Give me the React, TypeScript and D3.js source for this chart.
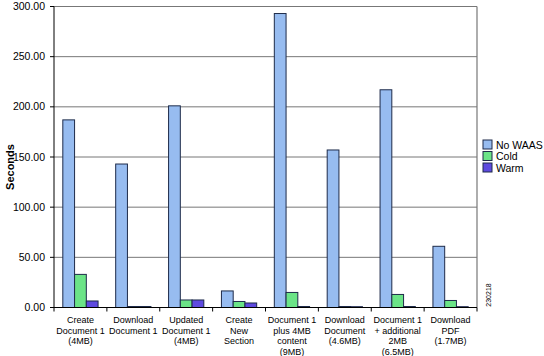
import React from "react";
import * as d3 from "d3";

const categories: string[][] = [
  ["Create", "Document 1", "(4MB)"],
  ["Download", "Document 1"],
  ["Updated", "Document 1", "(4MB)"],
  ["Create", "New", "Section"],
  ["Document 1", "plus 4MB", "content", "(9MB)"],
  ["Download", "Document", "(4.6MB)"],
  ["Document 1", "+ additional", "2MB", "(6.5MB)"],
  ["Download", "PDF", "(1.7MB)"],
];
const seriesNames = ["No WAAS", "Cold", "Warm"];
const noWaas = [187, 143, 201, 16.5, 293, 157, 217, 61];
const cold = [33, 1, 7.5, 6, 15, 1, 13, 7];
const warm = [6.5, 1, 7.5, 4.5, 1, 0.8, 1, 0.8];
const yTicks = [0, 50, 100, 150, 200, 250, 300];
const colors = ["#97BCF0", "#6BE487", "#5E4ADF"];

export default function App() {
  const W = 544, H = 356;
  const left = 54, right = 477, top = 6.5, bottom = 307.5;
  const x = d3.scaleBand<number>().domain(d3.range(categories.length)).range([left, right]);
  const y = d3.scaleLinear().domain([0, 300]).range([bottom, top]);
  const bw = x.bandwidth() / 4.5;
  const series = [noWaas, cold, warm];
  const font = "'Liberation Sans', Arial, sans-serif";
  return (
    <svg width={W} height={H} style={{ position: "absolute", left: 0, top: 0, background: "#fff" }} fontFamily={font}>
      {yTicks.map((t) => (
        <g key={t}>
          <line x1={left} x2={right} y1={y(t)} y2={y(t)} stroke="#777" strokeWidth={1} />
          <line x1={left - 4} x2={left} y1={y(t)} y2={y(t)} stroke="#000" strokeWidth={1} />
          <text x={left - 9} y={y(t) + 3.5} fontSize={10.5} textAnchor="end" fill="#000">
            {t.toFixed(2)}
          </text>
        </g>
      ))}
      <line x1={right} x2={right} y1={top} y2={bottom} stroke="#777" strokeWidth={1.2} />
      {series.map((vals, si) =>
        vals.map((v, i) => {
          const x0 = (x(i) as number) + x.bandwidth() / 2 - 1.5 * bw + si * bw;
          return (
            <rect
              key={si + "-" + i}
              x={x0}
              y={y(v)}
              width={bw}
              height={bottom - y(v)}
              fill={colors[si]}
              stroke="#1e2b4a"
              strokeWidth={1}
            />
          );
        })
      )}
      <line x1={left} x2={left} y1={top} y2={bottom} stroke="#000" strokeWidth={1} />
      <line x1={left} x2={right} y1={bottom} y2={bottom} stroke="#000" strokeWidth={1} />
      {d3.range(categories.length + 1).map((i) => {
        const xx = left + i * x.step();
        return <line key={i} x1={xx} x2={xx} y1={bottom} y2={bottom + 4} stroke="#000" />;
      })}
      {categories.map((lines, i) => (
        <text key={i} x={(x(i) as number) + x.bandwidth() / 2} y={323} fontSize={9} textAnchor="middle" fill="#000">
          {lines.map((l, j) => (
            <tspan key={j} x={(x(i) as number) + x.bandwidth() / 2} y={323 + j * 10.7}>
              {l}
            </tspan>
          ))}
        </text>
      ))}
      <text transform={`translate(14,${(top + bottom) / 2 + 10}) rotate(-90)`} fontSize={11} fontWeight="bold" textAnchor="middle">
        Seconds
      </text>
      {seriesNames.map((n, i) => (
        <g key={n}>
          <rect x={483} y={140 + i * 11.5} width={9} height={9} fill={colors[i]} stroke="#1e2b4a" />
          <text x={496} y={148.5 + i * 11.5} fontSize={10.5} fill="#000">
            {n}
          </text>
        </g>
      ))}
      <text transform="translate(491,295) rotate(-90)" fontSize={7} textAnchor="middle" fill="#000">
        230218
      </text>
    </svg>
  );
}
